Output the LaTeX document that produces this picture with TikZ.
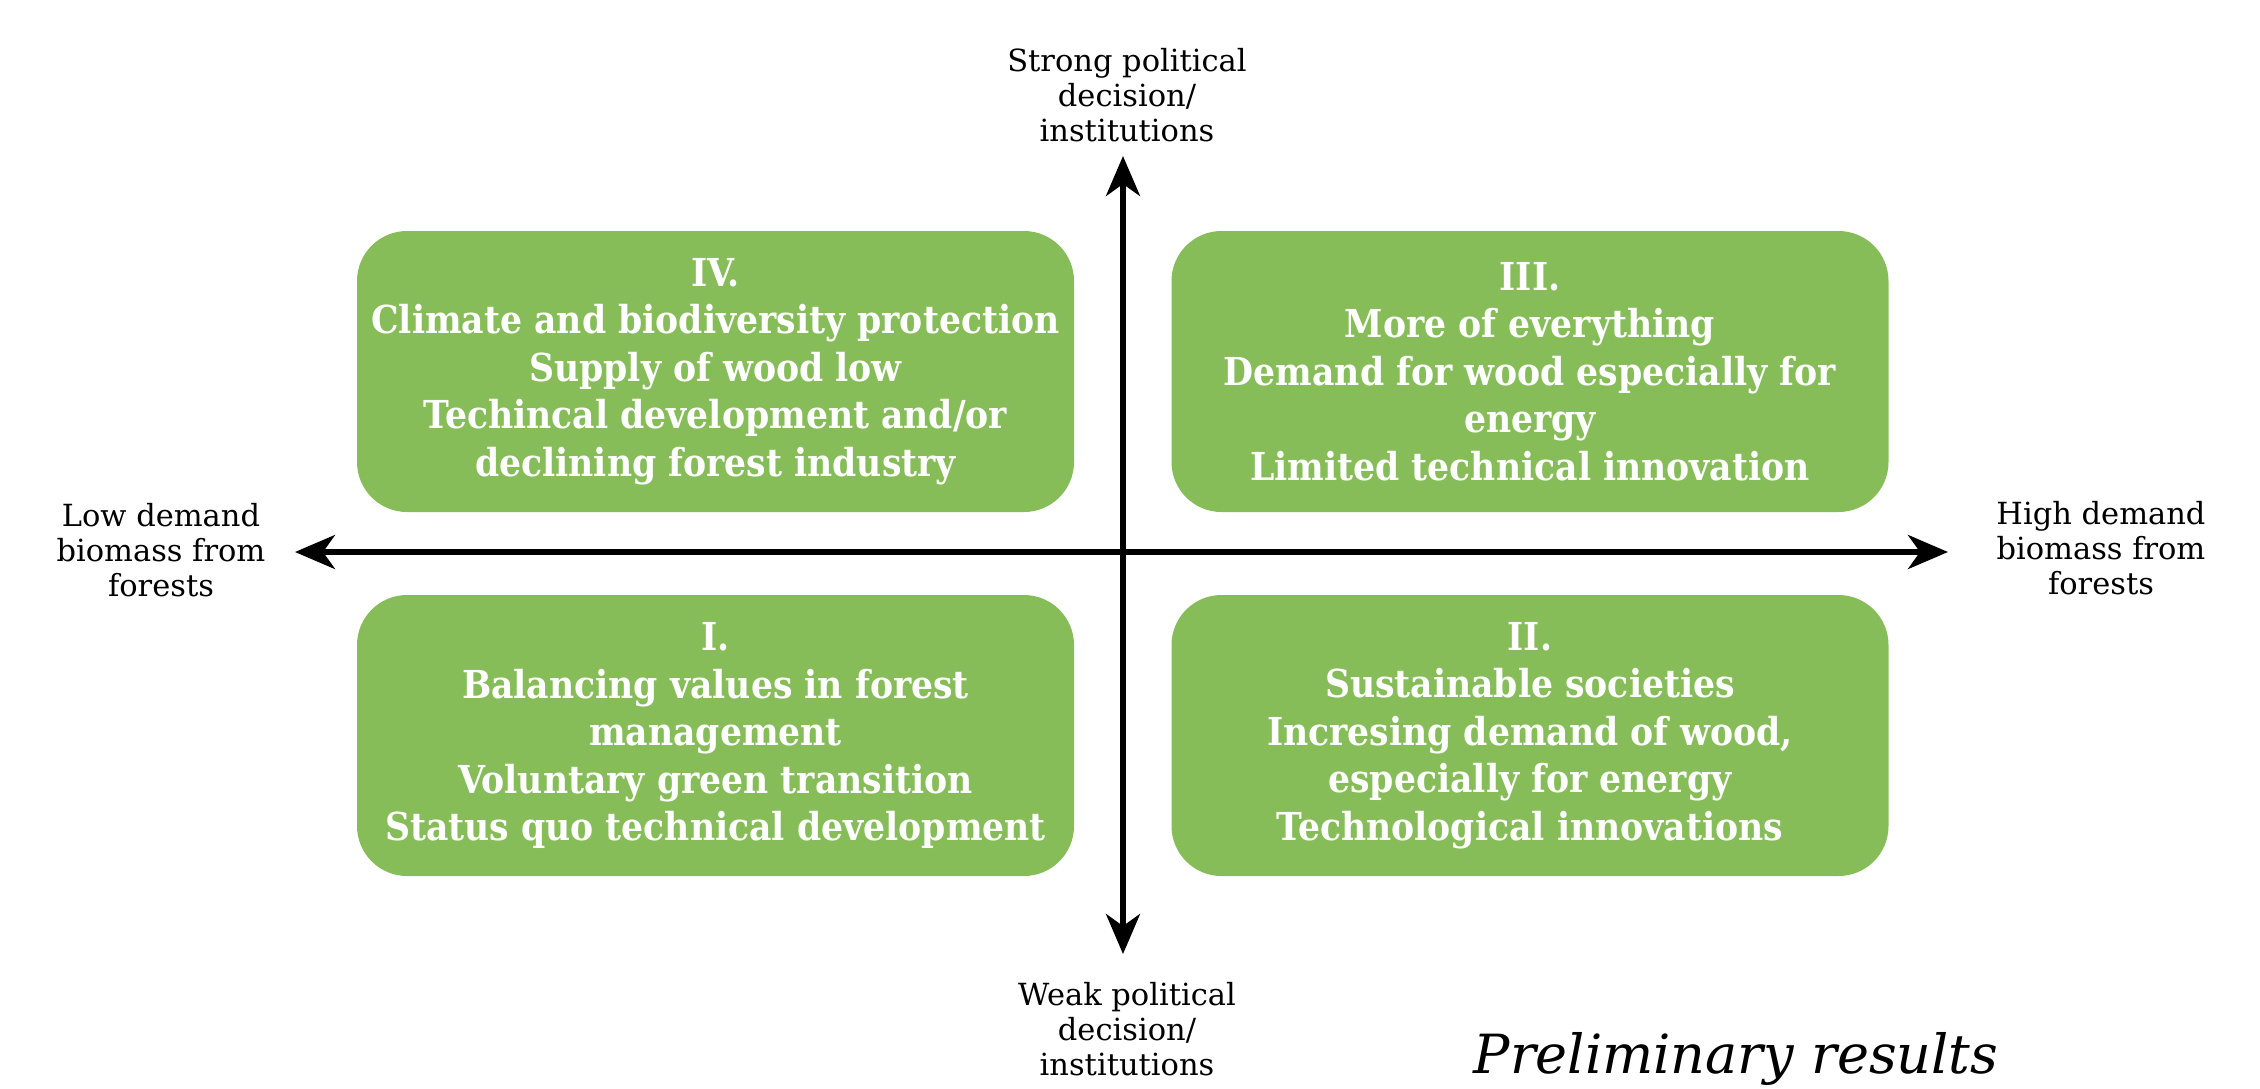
\documentclass[tikz,border=0pt]{standalone}
\usepackage{fontspec}
\setmainfont{DejaVu Serif}
\newfontfamily\boxfont{DejaVu Serif Condensed}
\usetikzlibrary{arrows.meta}
\definecolor{boxgreen}{RGB}{135,189,89}
\tikzset{
  quad/.style={fill=boxgreen, rounded corners=50pt, minimum width=717pt, minimum height=281pt,
    align=center, text=white, font=\boxfont\bfseries\fontsize{38.5}{47.5}\selectfont, inner sep=0pt},
  axislabel/.style={align=center, text=black, font=\fontsize{30.5}{35}\selectfont, inner sep=0pt},
  axis/.style={line width=5.5pt, -{Stealth[length=40pt,width=34pt,inset=12pt]}},
}
\begin{document}
\begin{tikzpicture}[x=1pt,y=-1pt]
\useasboundingbox (0,0) rectangle (2260,1088);
\fill[white] (0,0) rectangle (2260,1088);
\node[quad] (q4) at (715.5,371.5) {IV.\\Climate and biodiversity protection\\Supply of wood low\\Techincal development and/or\\declining forest industry};
\node[quad] (q3) at (1530,371.5) {III.\\More of everything\\Demand for wood especially for\\energy\\Limited technical innovation};
\node[quad] (q1) at (715.5,735.5) {I.\\Balancing values in forest\\management\\Voluntary green transition\\Status quo technical development};
\node[quad] (q2) at (1530,735.5) {II.\\Sustainable societies\\Incresing demand of wood,\\especially for energy\\Technological innovations};
\coordinate (c) at (1123,552);
\coordinate (left) at (295,552);
\coordinate (right) at (1948,552);
\coordinate (top) at (1123,156);
\coordinate (bot) at (1123,954);
\draw[axis] (c) -- (left);
\draw[axis] (c) -- (right);
\draw[axis] (c) -- (top);
\draw[axis] (c) -- (bot);
\node[axislabel] (tl) at (1127,95) {Strong political\\decision/\\institutions};
\node[axislabel] (bl) at (1127,1029) {Weak political\\decision/\\institutions};
\node[axislabel] (ll) at (161,550) {Low demand\\biomass from\\forests};
\node[axislabel] (rl) at (2101,548) {High demand\\biomass from\\forests};
\node[anchor=base, font=\itshape\fontsize{54}{60}\selectfont, inner sep=0pt] (pr) at (1736,1073) {Preliminary results};
\end{tikzpicture}
\end{document}
